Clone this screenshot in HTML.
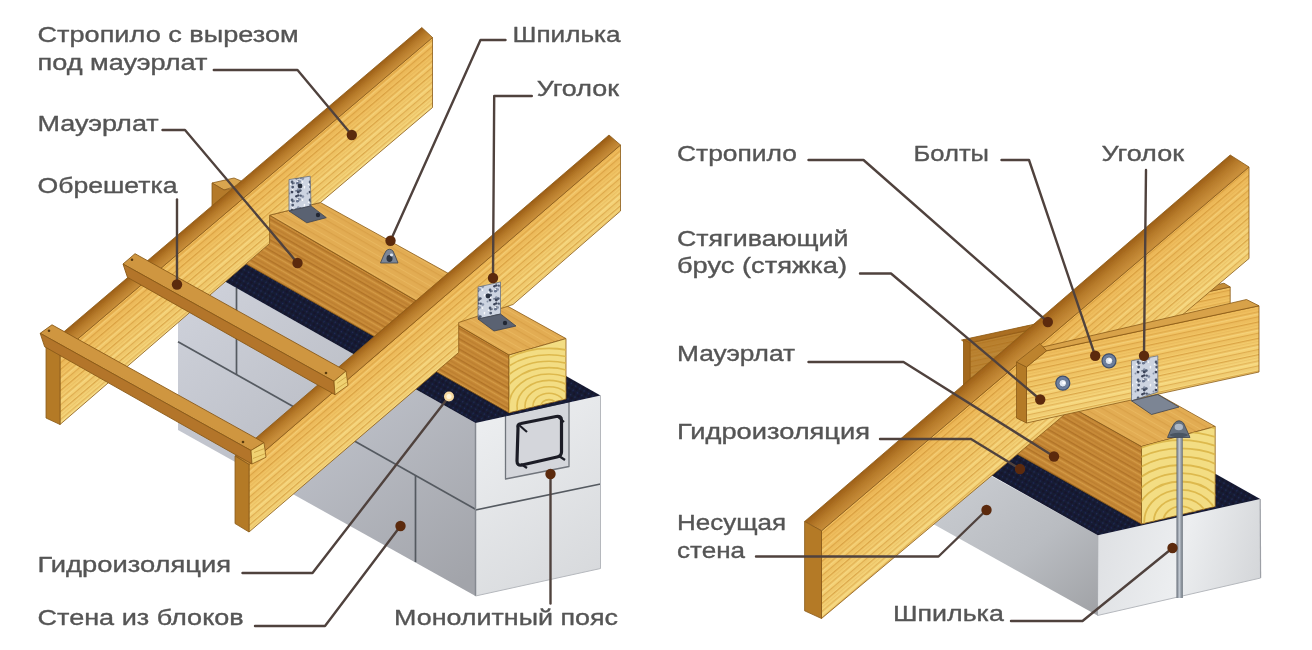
<!DOCTYPE html>
<html lang="ru"><head><meta charset="utf-8"><title>Крепление стропил к мауэрлату</title>
<style>
html,body{margin:0;padding:0;background:#fff;}
body{width:1312px;height:650px;overflow:hidden;font-family:"Liberation Sans",sans-serif;}
svg{display:block}
text{font-family:"Liberation Sans",sans-serif;fill:#545454;}
</style></head><body>
<svg width="1312" height="650" viewBox="0 0 1312 650">
<defs>
<filter id="soft" x="0" y="0" width="100%" height="100%" filterUnits="userSpaceOnUse"><feGaussianBlur stdDeviation="0.75"/></filter>
<linearGradient id="gWallL" gradientUnits="userSpaceOnUse" x1="200" y1="300" x2="440" y2="600"><stop offset="0" stop-color="#cdd0d9"/><stop offset="0.5" stop-color="#babdc5"/><stop offset="1" stop-color="#a2a4aa"/></linearGradient>
<linearGradient id="gWallR" gradientUnits="userSpaceOnUse" x1="480" y1="420" x2="600" y2="590"><stop offset="0" stop-color="#eceef0"/><stop offset="1" stop-color="#d6d8db"/></linearGradient>
<linearGradient id="gWallL2" gradientUnits="userSpaceOnUse" x1="960" y1="470" x2="1080" y2="620"><stop offset="0" stop-color="#c9ccd1"/><stop offset="0.55" stop-color="#b9bcc1"/><stop offset="1" stop-color="#a2a4a8"/></linearGradient>
<linearGradient id="gWallR2" gradientUnits="userSpaceOnUse" x1="1100" y1="540" x2="1260" y2="580"><stop offset="0" stop-color="#dfe1e4"/><stop offset="0.5" stop-color="#eceef0"/><stop offset="1" stop-color="#d4d6d9"/></linearGradient>
<linearGradient id="gRod" x1="0" y1="0" x2="1" y2="0"><stop offset="0" stop-color="#5f6772"/><stop offset="0.45" stop-color="#c3cad3"/><stop offset="1" stop-color="#687079"/></linearGradient>
<linearGradient id="gR1" gradientUnits="userSpaceOnUse" x1="300.0" y1="150.1" x2="334.5" y2="190.8"><stop offset="0" stop-color="#eeb958"/><stop offset="0.45" stop-color="#f2c869"/><stop offset="1" stop-color="#f5d67c"/></linearGradient>
<linearGradient id="gR2" gradientUnits="userSpaceOnUse" x1="500.0" y1="248.6" x2="532.6" y2="286.6"><stop offset="0" stop-color="#eeb958"/><stop offset="0.45" stop-color="#f2c869"/><stop offset="1" stop-color="#f5d67c"/></linearGradient>
<linearGradient id="gR3" gradientUnits="userSpaceOnUse" x1="1000.0" y1="378.1" x2="1045.4" y2="431.2"><stop offset="0" stop-color="#eeb958"/><stop offset="0.45" stop-color="#f2c869"/><stop offset="1" stop-color="#f5d67c"/></linearGradient>
<linearGradient id="gT" gradientUnits="userSpaceOnUse" x1="1150" y1="328" x2="1163" y2="392"><stop offset="0" stop-color="#efbd5c"/><stop offset="0.5" stop-color="#f3cb6c"/><stop offset="1" stop-color="#f6d980"/></linearGradient>
<linearGradient id="gT2" gradientUnits="userSpaceOnUse" x1="1100" y1="314" x2="1113" y2="378"><stop offset="0" stop-color="#efbd5c"/><stop offset="0.5" stop-color="#f3cb6c"/><stop offset="1" stop-color="#f6d980"/></linearGradient>
<linearGradient id="sR1" gradientUnits="userSpaceOnUse" x1="300.0" y1="131.0" x2="309.1" y2="141.7"><stop offset="0" stop-color="#9c5e16"/><stop offset="0.5" stop-color="#b67a2a"/><stop offset="1" stop-color="#c88e3a"/></linearGradient>
<linearGradient id="sR2" gradientUnits="userSpaceOnUse" x1="500.0" y1="228.7" x2="509.1" y2="239.4"><stop offset="0" stop-color="#9c5e16"/><stop offset="0.5" stop-color="#b67a2a"/><stop offset="1" stop-color="#c88e3a"/></linearGradient>
<linearGradient id="sR3" gradientUnits="userSpaceOnUse" x1="1000.0" y1="352.6" x2="1012.4" y2="367.0"><stop offset="0" stop-color="#9c5e16"/><stop offset="0.5" stop-color="#b67a2a"/><stop offset="1" stop-color="#c88e3a"/></linearGradient>
<!-- wood grain patterns -->
<pattern id="grR1" width="40" height="16" patternUnits="userSpaceOnUse" patternTransform="rotate(-40.4)"><rect y="0" width="40" height="1.3" fill="#c98a2c" opacity="0.6"/><rect y="3.4" width="40" height="0.8" fill="#d9a244" opacity="0.45"/><rect y="6.2" width="40" height="1.2" fill="#cf9434" opacity="0.55"/><rect y="8.4" width="40" height="0.8" fill="#fbe9a4" opacity="0.5"/><rect y="11" width="40" height="1.3" fill="#c98a2c" opacity="0.5"/><rect y="13.6" width="40" height="0.8" fill="#dba546" opacity="0.45"/></pattern>
<pattern id="grR2" width="40" height="16" patternUnits="userSpaceOnUse" patternTransform="rotate(-40.7)"><rect y="0" width="40" height="1.3" fill="#c98a2c" opacity="0.6"/><rect y="3.4" width="40" height="0.8" fill="#d9a244" opacity="0.45"/><rect y="6.2" width="40" height="1.2" fill="#cf9434" opacity="0.55"/><rect y="8.4" width="40" height="0.8" fill="#fbe9a4" opacity="0.5"/><rect y="11" width="40" height="1.3" fill="#c98a2c" opacity="0.5"/><rect y="13.6" width="40" height="0.8" fill="#dba546" opacity="0.45"/></pattern>
<pattern id="grR3" width="40" height="16" patternUnits="userSpaceOnUse" patternTransform="rotate(-40.5)"><rect y="0" width="40" height="1.3" fill="#c98a2c" opacity="0.6"/><rect y="3.4" width="40" height="0.8" fill="#d9a244" opacity="0.45"/><rect y="6.2" width="40" height="1.2" fill="#cf9434" opacity="0.55"/><rect y="8.4" width="40" height="0.8" fill="#fbe9a4" opacity="0.5"/><rect y="11" width="40" height="1.3" fill="#c98a2c" opacity="0.5"/><rect y="13.6" width="40" height="0.8" fill="#dba546" opacity="0.45"/></pattern>
<pattern id="grM" width="40" height="9" patternUnits="userSpaceOnUse" patternTransform="rotate(30)"><rect width="40" height="9" fill="#c78a37"/><rect y="0" width="40" height="1.6" fill="#a96a22" opacity="0.7"/><rect y="3" width="40" height="1" fill="#dba550" opacity="0.6"/><rect y="5.5" width="40" height="1.3" fill="#b3742a" opacity="0.6"/></pattern>
<pattern id="grMt" width="40" height="9" patternUnits="userSpaceOnUse" patternTransform="rotate(30)"><rect width="40" height="9" fill="#e2ac52"/><rect y="0" width="40" height="1.2" fill="#cf9640" opacity="0.5"/><rect y="5" width="40" height="0.8" fill="#edc06a" opacity="0.6"/></pattern>
<pattern id="grT" width="40" height="16" patternUnits="userSpaceOnUse" patternTransform="rotate(-12)"><rect y="0" width="40" height="1.3" fill="#c98a2c" opacity="0.6"/><rect y="3.4" width="40" height="0.8" fill="#d9a244" opacity="0.45"/><rect y="6.2" width="40" height="1.2" fill="#cf9434" opacity="0.55"/><rect y="8.4" width="40" height="0.8" fill="#fbe9a4" opacity="0.5"/><rect y="11" width="40" height="1.3" fill="#c98a2c" opacity="0.5"/><rect y="13.6" width="40" height="0.8" fill="#dba546" opacity="0.45"/></pattern>
<pattern id="wp" width="5" height="5" patternUnits="userSpaceOnUse" patternTransform="rotate(30)"><rect width="5" height="5" fill="#151a32"/><circle cx="1.5" cy="1.5" r="0.9" fill="#232c56"/><circle cx="4" cy="4" r="0.7" fill="#0c0f20"/></pattern>
<pattern id="dots" width="18" height="18" patternUnits="userSpaceOnUse"><rect width="18" height="18" fill="#cdd4e1"/><circle cx="6.0" cy="3.1" r="0.8" fill="#4f5a70"/><circle cx="14.5" cy="2.1" r="0.8" fill="#ffffff"/><circle cx="4.1" cy="2.0" r="1.4" fill="#4f5a70"/><circle cx="4.6" cy="9.9" r="0.8" fill="#ffffff"/><circle cx="2.6" cy="4.3" r="0.8" fill="#ffffff"/><circle cx="10.5" cy="1.3" r="1.0" fill="#4f5a70"/><circle cx="10.0" cy="2.8" r="1.4" fill="#6a7690"/><circle cx="9.7" cy="10.2" r="1.0" fill="#4f5a70"/><circle cx="10.4" cy="11.4" r="1.2" fill="#4f5a70"/><circle cx="9.8" cy="1.6" r="0.8" fill="#ffffff"/><circle cx="4.0" cy="12.1" r="1.4" fill="#3b4358"/><circle cx="8.4" cy="16.2" r="1.2" fill="#3b4358"/><circle cx="4.7" cy="3.6" r="1.0" fill="#4f5a70"/><circle cx="10.3" cy="9.4" r="1.2" fill="#8792a8"/><circle cx="8.1" cy="10.9" r="0.8" fill="#4f5a70"/><circle cx="9.2" cy="3.3" r="1.2" fill="#6a7690"/><circle cx="16.4" cy="7.7" r="0.8" fill="#ffffff"/><circle cx="10.2" cy="15.4" r="1.2" fill="#3b4358"/><circle cx="12.3" cy="10.6" r="1.4" fill="#4f5a70"/><circle cx="14.8" cy="16.6" r="1.4" fill="#8792a8"/><circle cx="11.8" cy="1.5" r="1.2" fill="#8792a8"/><circle cx="10.3" cy="12.1" r="1.4" fill="#3b4358"/><circle cx="12.7" cy="15.6" r="1.2" fill="#4f5a70"/><circle cx="16.5" cy="6.5" r="0.8" fill="#f6f8fc"/><circle cx="1.5" cy="13.6" r="1.0" fill="#8792a8"/><circle cx="4.7" cy="7.1" r="1.4" fill="#4f5a70"/></pattern>
<clipPath id="clipEndL"><polygon points="509,355 566,338.6 566,399 509,412.75"/></clipPath>
<clipPath id="clipEndR"><polygon points="1141.5,446.5 1215.25,426.5 1215.25,506.5 1141.5,524"/></clipPath>
</defs>

<rect width="1312" height="650" fill="#ffffff"/>
<g filter="url(#soft)">
<g id="left">
<polygon points="178.0,254.9 475.5,423.0 475.5,596.0 178.0,430.0" fill="url(#gWallL)" />
<line x1="178.0" y1="341.7" x2="475.5" y2="509.2" stroke="#555a61" stroke-width="1.7" />
<line x1="236.5" y1="288.0" x2="236.5" y2="374.6" stroke="#555a61" stroke-width="1.7" />
<line x1="415.5" y1="475.4" x2="415.5" y2="562.1" stroke="#555a61" stroke-width="1.7" />
<polygon points="475.5,423.0 600.5,395.5 600.5,568.5 475.5,596.0" fill="url(#gWallR)" />
<line x1="475.5" y1="510.0" x2="600.5" y2="484.0" stroke="#555a61" stroke-width="1.7" />
<line x1="475.5" y1="423.0" x2="475.5" y2="596.0" stroke="#858990" stroke-width="1.5" />
<line x1="600.5" y1="395.5" x2="600.5" y2="568.5" stroke="#b5b8bd" stroke-width="1" />
<line x1="475.5" y1="596.0" x2="600.5" y2="568.5" stroke="#b5b8bd" stroke-width="1" />
<polygon points="505.5,415.5 569.0,401.5 569.0,466.5 505.5,479.0" fill="#d4d6db" stroke="#70747b" stroke-width="1.3" stroke-linejoin="round" />
<path d="M518,428 Q517,424 521,423.5 L556,416.5 Q561.5,415.5 561.5,420 L561.5,452 Q561.5,456 557,457 L522,465 Q517,466 517,461 Z" fill="none" stroke="#1d1f27" stroke-width="3.2" stroke-linejoin="round"/>
<line x1="519.0" y1="425.0" x2="527.0" y2="432.0" stroke="#1d1f27" stroke-width="2.2" />
<line x1="557.0" y1="416.0" x2="564.0" y2="422.0" stroke="#1d1f27" stroke-width="2.2" />
<line x1="559.0" y1="456.0" x2="565.0" y2="460.0" stroke="#1d1f27" stroke-width="2.2" />
<line x1="521.0" y1="464.0" x2="527.0" y2="468.0" stroke="#1d1f27" stroke-width="2.2" />
<polygon points="475.5,423.0 600.5,395.5 303.0,227.5 178.0,255.0" fill="url(#wp)" />
<polygon points="212.0,183.0 234.0,178.0 246.0,183.0 224.0,190.0" fill="#d9a54f" stroke="#8a5a18" stroke-width="0.8" stroke-linejoin="round" />
<polygon points="212.0,183.0 224.0,190.0 244.0,186.0 244.0,215.0 212.0,207.0" fill="#b47a2c" stroke="#8a5a18" stroke-width="0.8" stroke-linejoin="round" />
<polygon points="240.0,198.0 509.0,355.0 509.0,412.8 240.0,260.5" fill="url(#grM)" stroke="#8a5a18" stroke-width="0.8" stroke-linejoin="round" />
<polygon points="269.6,215.2 320.4,202.5 566.0,338.6 509.0,355.0" fill="url(#grMt)" stroke="#8a5a18" stroke-width="0.8" stroke-linejoin="round" />
<polygon points="509.0,355.0 566.0,338.6 566.0,399.0 509.0,412.8" fill="#f3dd83" stroke="#8a5a18" stroke-width="0.8" stroke-linejoin="round" />
<g fill="none" stroke="#dbb548" stroke-width="1.6" opacity="0.9" clip-path="url(#clipEndL)">
<ellipse cx="549" cy="406" rx="8.0" ry="6.4"/>
<ellipse cx="549" cy="406" rx="16.0" ry="12.8"/>
<ellipse cx="549" cy="406" rx="24.0" ry="19.2"/>
<ellipse cx="549" cy="406" rx="32.0" ry="25.6"/>
<ellipse cx="549" cy="406" rx="40.0" ry="32.0"/>
<ellipse cx="549" cy="406" rx="48.0" ry="38.4"/>
<ellipse cx="549" cy="406" rx="56.0" ry="44.8"/>
<ellipse cx="549" cy="406" rx="64.0" ry="51.2"/>
<ellipse cx="549" cy="406" rx="72.0" ry="57.6"/>
</g>
<path d="M380.5,263 L398,263 Q395,255 393,251 Q389.5,247.5 386,251 Q383.5,255 380.5,263 Z" fill="#7b8696" stroke="#3c4450" stroke-width="0.8"/>
<ellipse cx="389.5" cy="258.5" rx="3" ry="3.4" fill="#2d3440"/>
<ellipse cx="391.5" cy="255" rx="1.6" ry="1.4" fill="#dfe5ee"/>
<polygon points="432.5,37.5 432.5,107.5 320.4,202.5 269.6,215.2 269.6,243.5 60.0,424.5 60.0,354.0" fill="url(#gR1)" />
<polygon points="432.5,37.5 432.5,107.5 320.4,202.5 269.6,215.2 269.6,243.5 60.0,424.5 60.0,354.0" fill="url(#grR1)" stroke="#8a5a18" stroke-width="0.8" stroke-linejoin="round" />
<polygon points="421.8,27.5 432.5,37.5 60.0,354.0 46.0,347.0" fill="url(#sR1)" stroke="#8a5a18" stroke-width="0.8" stroke-linejoin="round" />
<polygon points="46.0,347.0 60.0,354.0 60.0,424.5 46.0,418.0" fill="#b47a28" stroke="#8a5a18" stroke-width="0.8" stroke-linejoin="round" />
<polygon points="289.0,179.6 310.2,176.2 311.0,205.9 289.0,211.0" fill="url(#dots)" stroke="#6a7282" stroke-width="0.8" stroke-linejoin="round" />
<polygon points="289.0,211.0 311.0,205.9 326.3,217.7 306.8,222.8" fill="#5a6272" stroke="#3c4250" stroke-width="0.8" stroke-linejoin="round" />
<circle cx="300.0" cy="186.0" r="2.4" fill="#2a3040" />
<circle cx="318.0" cy="215.0" r="2.2" fill="#232834" />
<polygon points="620.5,145.0 620.5,211.0 513.0,304.5 458.7,322.5 458.7,352.5 249.0,532.0 249.0,464.5" fill="url(#gR2)" />
<polygon points="620.5,145.0 620.5,211.0 513.0,304.5 458.7,322.5 458.7,352.5 249.0,532.0 249.0,464.5" fill="url(#grR2)" stroke="#8a5a18" stroke-width="0.8" stroke-linejoin="round" />
<polygon points="609.0,135.0 620.5,145.0 249.0,464.5 235.0,456.0" fill="url(#sR2)" stroke="#8a5a18" stroke-width="0.8" stroke-linejoin="round" />
<polygon points="235.0,456.0 249.0,464.5 249.0,532.0 235.0,523.5" fill="#b47a28" stroke="#8a5a18" stroke-width="0.8" stroke-linejoin="round" />
<polygon points="478.0,287.0 500.5,282.0 500.5,314.0 478.0,319.0" fill="url(#dots)" stroke="#6a7282" stroke-width="0.8" stroke-linejoin="round" />
<polygon points="478.0,319.0 500.5,314.0 516.0,326.0 494.0,331.0" fill="#5a6272" stroke="#3c4250" stroke-width="0.8" stroke-linejoin="round" />
<circle cx="488.0" cy="296.0" r="2.4" fill="#2a3040" />
<circle cx="505.0" cy="323.0" r="2.2" fill="#232834" />
<polygon points="123.0,264.0 135.0,253.7 346.0,371.0 334.0,381.3" fill="#cf9640" stroke="#8a5a18" stroke-width="0.9" stroke-linejoin="round" />
<polygon points="123.0,264.0 334.0,381.3 335.0,394.7 127.5,277.4" fill="#b3752a" stroke="#8a5a18" stroke-width="0.9" stroke-linejoin="round" />
<polygon points="334.0,381.3 346.0,371.0 348.0,385.4 335.0,394.7" fill="#f0d272" stroke="#8a5a18" stroke-width="0.8" stroke-linejoin="round" />
<line x1="337.0" y1="383.3" x2="346.0" y2="377.0" stroke="#c9a040" stroke-width="0.8" />
<line x1="336.0" y1="389.3" x2="347.0" y2="382.0" stroke="#c9a040" stroke-width="0.8" />
<circle cx="132.0" cy="259.7" r="1.3" fill="#5a3a10" />
<polygon points="40.2,333.3 52.0,324.8 264.0,442.7 251.0,450.5" fill="#cf9640" stroke="#8a5a18" stroke-width="0.9" stroke-linejoin="round" />
<polygon points="40.2,333.3 251.0,450.5 252.0,464.0 44.7,346.8" fill="#b3752a" stroke="#8a5a18" stroke-width="0.9" stroke-linejoin="round" />
<polygon points="251.0,450.5 264.0,442.7 266.0,457.2 252.0,464.0" fill="#f0d272" stroke="#8a5a18" stroke-width="0.8" stroke-linejoin="round" />
<line x1="254.0" y1="452.5" x2="264.0" y2="448.7" stroke="#c9a040" stroke-width="0.8" />
<line x1="253.0" y1="458.5" x2="265.0" y2="453.7" stroke="#c9a040" stroke-width="0.8" />
<circle cx="49.0" cy="330.8" r="1.3" fill="#5a3a10" />
<circle cx="326.0" cy="373.0" r="1.3" fill="#5a3a10" />
<circle cx="243.0" cy="442.0" r="1.3" fill="#5a3a10" />
</g>
<g id="right">
<polygon points="940.0,447.5 1097.8,535.2 1097.5,615.5 900.0,505.5" fill="url(#gWallL2)" />
<polygon points="1097.8,535.2 1260.2,499.0 1260.6,578.0 1097.5,615.5" fill="url(#gWallR2)" />
<line x1="1097.8" y1="535.2" x2="1097.5" y2="615.5" stroke="#a5a8ad" stroke-width="1" />
<line x1="1260.2" y1="499.0" x2="1260.6" y2="578.0" stroke="#9da0a6" stroke-width="1.2" />
<line x1="1097.5" y1="615.5" x2="1260.6" y2="578.0" stroke="#b5b8bd" stroke-width="1" />
<polygon points="940.0,446.5 1097.8,535.2 1260.2,499.0 1102.5,410.2" fill="url(#wp)" />
<polygon points="1141.5,446.5 1141.5,524.0 990.0,438.8 990.0,361.3" fill="url(#grM)" stroke="#8a5a18" stroke-width="0.8" stroke-linejoin="round" />
<polygon points="1141.5,446.5 1215.2,426.5 1065.0,342.0 991.0,362.0" fill="url(#grMt)" stroke="#8a5a18" stroke-width="0.8" stroke-linejoin="round" />
<polygon points="1141.5,446.5 1215.2,426.5 1215.2,506.5 1141.5,524.0" fill="#f3dd83" stroke="#8a5a18" stroke-width="0.8" stroke-linejoin="round" />
<g fill="none" stroke="#dbb548" stroke-width="1.8" opacity="0.9" clip-path="url(#clipEndR)">
<ellipse cx="1181" cy="522" rx="8.4" ry="7.4"/>
<ellipse cx="1181" cy="522" rx="17.9" ry="15.6"/>
<ellipse cx="1181" cy="522" rx="27.3" ry="23.9"/>
<ellipse cx="1181" cy="522" rx="36.8" ry="32.2"/>
<ellipse cx="1181" cy="522" rx="46.2" ry="40.5"/>
<ellipse cx="1181" cy="522" rx="55.7" ry="48.8"/>
<ellipse cx="1181" cy="522" rx="65.1" ry="57.0"/>
<ellipse cx="1181" cy="522" rx="74.5" ry="65.3"/>
<ellipse cx="1181" cy="522" rx="84.0" ry="73.6"/>
<ellipse cx="1181" cy="522" rx="93.5" ry="81.9"/>
<ellipse cx="1181" cy="522" rx="102.9" ry="90.2"/>
<ellipse cx="1181" cy="522" rx="112.4" ry="98.4"/>
</g>
<rect x="1176.5" y="431" width="6.3" height="167" fill="url(#gRod)"/>
<path d="M1167.5,437.5 L1190,437.5 Q1186,428 1183.5,423 Q1179,418.5 1174.5,423 Q1171,428 1167.5,437.5 Z" fill="#66717f" stroke="#3c4450" stroke-width="0.8"/>
<ellipse cx="1178.8" cy="427" rx="4.2" ry="3.2" fill="#aeb8c6"/>
<ellipse cx="1178.8" cy="435" rx="9" ry="2.2" fill="#4a5462"/>
<polygon points="970.0,343.0 1230.2,287.0 1230.2,353.0 970.0,409.0" fill="url(#gT2)" />
<polygon points="970.0,343.0 1230.2,287.0 1230.2,353.0 970.0,409.0" fill="url(#grT)" stroke="#8a5a18" stroke-width="0.8" stroke-linejoin="round" />
<polygon points="961.5,340.0 1224.0,283.2 1230.2,287.0 966.0,343.5" fill="#c48d38" stroke="#8a5a18" stroke-width="0.8" stroke-linejoin="round" />
<polygon points="963.5,339.5 970.0,343.0 970.0,409.0 963.5,405.0" fill="#b47a28" stroke="#8a5a18" stroke-width="0.8" stroke-linejoin="round" />
<polygon points="963.5,339.5 1030.0,325.0 1030.0,420.0 963.5,420.0" fill="#9a5c14" opacity="0.62"/>
<polygon points="1249.0,167.0 1249.0,258.5 1041.5,434.0 992.0,475.4 821.5,618.5 821.5,530.8" fill="url(#gR3)" />
<polygon points="1249.0,167.0 1249.0,258.5 1041.5,434.0 992.0,475.4 821.5,618.5 821.5,530.8" fill="url(#grR3)" stroke="#8a5a18" stroke-width="0.8" stroke-linejoin="round" />
<polygon points="1230.2,155.0 1249.0,167.0 821.5,530.8 804.6,521.5" fill="url(#sR3)" stroke="#8a5a18" stroke-width="0.8" stroke-linejoin="round" />
<polygon points="804.6,521.5 821.5,530.8 821.5,618.5 804.6,610.8" fill="#b47a28" stroke="#8a5a18" stroke-width="0.8" stroke-linejoin="round" />
<polygon points="1026.5,367.0 1046.5,350.8 1259.0,305.8 1259.0,372.0 1026.5,423.0" fill="url(#gT)" />
<polygon points="1026.5,367.0 1046.5,350.8 1259.0,305.8 1259.0,372.0 1026.5,423.0" fill="url(#grT)" stroke="#8a5a18" stroke-width="0.8" stroke-linejoin="round" />
<polygon points="1042.8,347.0 1246.5,299.5 1259.0,305.8 1046.5,350.8" fill="#d8a248" stroke="#8a5a18" stroke-width="0.8" stroke-linejoin="round" />
<polygon points="1016.5,362.0 1026.5,367.0 1026.5,423.0 1016.5,418.0" fill="#b47a28" stroke="#8a5a18" stroke-width="0.8" stroke-linejoin="round" />
<polygon points="1016.5,362.0 1040.0,343.5 1046.5,350.8 1026.5,367.0" fill="#bd832f" stroke="#8a5a18" stroke-width="0.8" stroke-linejoin="round" />
<polygon points="1131.5,360.8 1157.8,355.8 1157.8,392.0 1131.5,400.8" fill="url(#dots)" stroke="#6a7282" stroke-width="0.8" stroke-linejoin="round" />
<polygon points="1131.5,400.8 1157.8,394.5 1179.0,407.0 1151.5,414.5" fill="#7c8594" stroke="#3c4250" stroke-width="0.8" stroke-linejoin="round" />
<circle cx="1109.0" cy="360.8" r="7" fill="#6c7f9f" stroke="#3f4f6c" stroke-width="1.2"/>
<circle cx="1109.0" cy="360.8" r="3.8" fill="#dfe6f0" stroke="#53637f" stroke-width="0.8"/>
<circle cx="1110.0" cy="360.2" r="1.6" fill="#ffffff" />
<circle cx="1062.8" cy="383.2" r="7" fill="#6c7f9f" stroke="#3f4f6c" stroke-width="1.2"/>
<circle cx="1062.8" cy="383.2" r="3.8" fill="#dfe6f0" stroke="#53637f" stroke-width="0.8"/>
<circle cx="1063.8" cy="382.8" r="1.6" fill="#ffffff" />
</g>
<g id="labels">
<text x="37.5" y="42" font-size="22" textLength="261.2" lengthAdjust="spacingAndGlyphs" stroke="#545454" stroke-width="0.35" stroke-linejoin="round">Стропило с вырезом</text>
<text x="37.5" y="70" font-size="22" textLength="170.0" lengthAdjust="spacingAndGlyphs" stroke="#545454" stroke-width="0.35" stroke-linejoin="round">под мауэрлат</text>
<polyline points="213.8,70.0 297.5,70.0 351.8,135.0" fill="none" stroke="#50423e" stroke-width="2.4" stroke-linejoin="round" stroke-linecap="round"/>
<circle cx="351.8" cy="135.0" r="5.2" fill="#5b2c10" />
<text x="37.5" y="131" font-size="22" textLength="121.2" lengthAdjust="spacingAndGlyphs" stroke="#545454" stroke-width="0.35" stroke-linejoin="round">Мауэрлат</text>
<polyline points="162.5,130.0 185.0,130.0 297.5,263.0" fill="none" stroke="#50423e" stroke-width="2.4" stroke-linejoin="round" stroke-linecap="round"/>
<circle cx="297.5" cy="263.0" r="5.2" fill="#5b2c10" />
<text x="37.5" y="193" font-size="22" textLength="140.0" lengthAdjust="spacingAndGlyphs" stroke="#545454" stroke-width="0.35" stroke-linejoin="round">Обрешетка</text>
<polyline points="177.0,199.5 177.0,284.5" fill="none" stroke="#50423e" stroke-width="2.4" stroke-linejoin="round" stroke-linecap="round"/>
<circle cx="177.0" cy="284.5" r="5.2" fill="#5b2c10" />
<text x="512.5" y="42" font-size="22" textLength="108.0" lengthAdjust="spacingAndGlyphs" stroke="#545454" stroke-width="0.35" stroke-linejoin="round">Шпилька</text>
<polyline points="505.5,40.0 480.5,40.0 390.5,240.8" fill="none" stroke="#50423e" stroke-width="2.4" stroke-linejoin="round" stroke-linecap="round"/>
<circle cx="390.5" cy="240.8" r="5.2" fill="#5b2c10" />
<text x="536.75" y="96" font-size="22" textLength="82.2" lengthAdjust="spacingAndGlyphs" stroke="#545454" stroke-width="0.35" stroke-linejoin="round">Уголок</text>
<polyline points="531.8,96.0 494.2,96.0 493.0,278.0" fill="none" stroke="#50423e" stroke-width="2.4" stroke-linejoin="round" stroke-linecap="round"/>
<circle cx="493.0" cy="278.0" r="5.2" fill="#5b2c10" />
<text x="37.5" y="572" font-size="22" textLength="193.5" lengthAdjust="spacingAndGlyphs" stroke="#545454" stroke-width="0.35" stroke-linejoin="round">Гидроизоляция</text>
<polyline points="242.5,573.0 312.5,573.0 449.0,396.5" fill="none" stroke="#50423e" stroke-width="2.4" stroke-linejoin="round" stroke-linecap="round"/>
<circle cx="449.0" cy="396.5" r="5" fill="#f6d9a0" />
<circle cx="449.0" cy="396.5" r="2.5" fill="#fff6dc" />
<text x="37.5" y="625" font-size="22" textLength="206.2" lengthAdjust="spacingAndGlyphs" stroke="#545454" stroke-width="0.35" stroke-linejoin="round">Стена из блоков</text>
<polyline points="255.0,626.0 325.0,626.0 400.5,526.0" fill="none" stroke="#50423e" stroke-width="2.4" stroke-linejoin="round" stroke-linecap="round"/>
<circle cx="400.5" cy="526.0" r="5.2" fill="#5b2c10" />
<text x="394" y="625" font-size="22" textLength="224.0" lengthAdjust="spacingAndGlyphs" stroke="#545454" stroke-width="0.35" stroke-linejoin="round">Монолитный пояс</text>
<polyline points="550.5,603.5 550.5,474.0" fill="none" stroke="#50423e" stroke-width="2.4" stroke-linejoin="round" stroke-linecap="round"/>
<circle cx="550.5" cy="474.0" r="5.2" fill="#5b2c10" />
<text x="677" y="161" font-size="22" textLength="120.0" lengthAdjust="spacingAndGlyphs" stroke="#545454" stroke-width="0.35" stroke-linejoin="round">Стропило</text>
<polyline points="808.5,160.0 863.5,160.0 1047.8,322.0" fill="none" stroke="#50423e" stroke-width="2.4" stroke-linejoin="round" stroke-linecap="round"/>
<circle cx="1047.8" cy="322.0" r="5.2" fill="#5b2c10" />
<text x="913.5" y="161" font-size="22" textLength="75.5" lengthAdjust="spacingAndGlyphs" stroke="#545454" stroke-width="0.35" stroke-linejoin="round">Болты</text>
<polyline points="1001.5,160.0 1029.0,160.0 1095.2,355.8" fill="none" stroke="#50423e" stroke-width="2.4" stroke-linejoin="round" stroke-linecap="round"/>
<circle cx="1095.2" cy="355.8" r="5.2" fill="#5b2c10" />
<text x="1101.5" y="161" font-size="22" textLength="82.5" lengthAdjust="spacingAndGlyphs" stroke="#545454" stroke-width="0.35" stroke-linejoin="round">Уголок</text>
<polyline points="1146.0,170.0 1144.0,355.8" fill="none" stroke="#50423e" stroke-width="2.4" stroke-linejoin="round" stroke-linecap="round"/>
<circle cx="1144.0" cy="355.8" r="5.2" fill="#5b2c10" />
<text x="677" y="246" font-size="22" textLength="171.5" lengthAdjust="spacingAndGlyphs" stroke="#545454" stroke-width="0.35" stroke-linejoin="round">Стягивающий</text>
<text x="677" y="273" font-size="22" textLength="170.0" lengthAdjust="spacingAndGlyphs" stroke="#545454" stroke-width="0.35" stroke-linejoin="round">брус (стяжка)</text>
<polyline points="860.0,273.5 891.0,273.5 1040.2,399.5" fill="none" stroke="#50423e" stroke-width="2.4" stroke-linejoin="round" stroke-linecap="round"/>
<circle cx="1040.2" cy="399.5" r="5.2" fill="#5b2c10" />
<text x="677" y="361" font-size="22" textLength="118.0" lengthAdjust="spacingAndGlyphs" stroke="#545454" stroke-width="0.35" stroke-linejoin="round">Мауэрлат</text>
<polyline points="808.5,362.0 903.5,362.0 1054.0,456.5" fill="none" stroke="#50423e" stroke-width="2.4" stroke-linejoin="round" stroke-linecap="round"/>
<circle cx="1054.0" cy="456.5" r="5.2" fill="#5b2c10" />
<text x="677" y="439" font-size="22" textLength="193.0" lengthAdjust="spacingAndGlyphs" stroke="#545454" stroke-width="0.35" stroke-linejoin="round">Гидроизоляция</text>
<polyline points="880.0,439.0 971.0,439.0 1020.0,469.0" fill="none" stroke="#50423e" stroke-width="2.4" stroke-linejoin="round" stroke-linecap="round"/>
<circle cx="1020.0" cy="469.0" r="5.2" fill="#5b2c10" />
<text x="677" y="530" font-size="22" textLength="109.0" lengthAdjust="spacingAndGlyphs" stroke="#545454" stroke-width="0.35" stroke-linejoin="round">Несущая</text>
<text x="677" y="558" font-size="22" textLength="68.0" lengthAdjust="spacingAndGlyphs" stroke="#545454" stroke-width="0.35" stroke-linejoin="round">стена</text>
<polyline points="756.0,556.5 938.5,556.5 986.5,510.0" fill="none" stroke="#50423e" stroke-width="2.4" stroke-linejoin="round" stroke-linecap="round"/>
<circle cx="986.5" cy="510.0" r="5.2" fill="#5b2c10" />
<text x="893" y="621" font-size="22" textLength="110.8" lengthAdjust="spacingAndGlyphs" stroke="#545454" stroke-width="0.35" stroke-linejoin="round">Шпилька</text>
<polyline points="1011.0,621.0 1082.5,621.0 1172.5,548.0" fill="none" stroke="#50423e" stroke-width="2.4" stroke-linejoin="round" stroke-linecap="round"/>
<circle cx="1172.5" cy="548.0" r="5.2" fill="#5b2c10" />
</g>
</g>
</svg>
</body></html>
